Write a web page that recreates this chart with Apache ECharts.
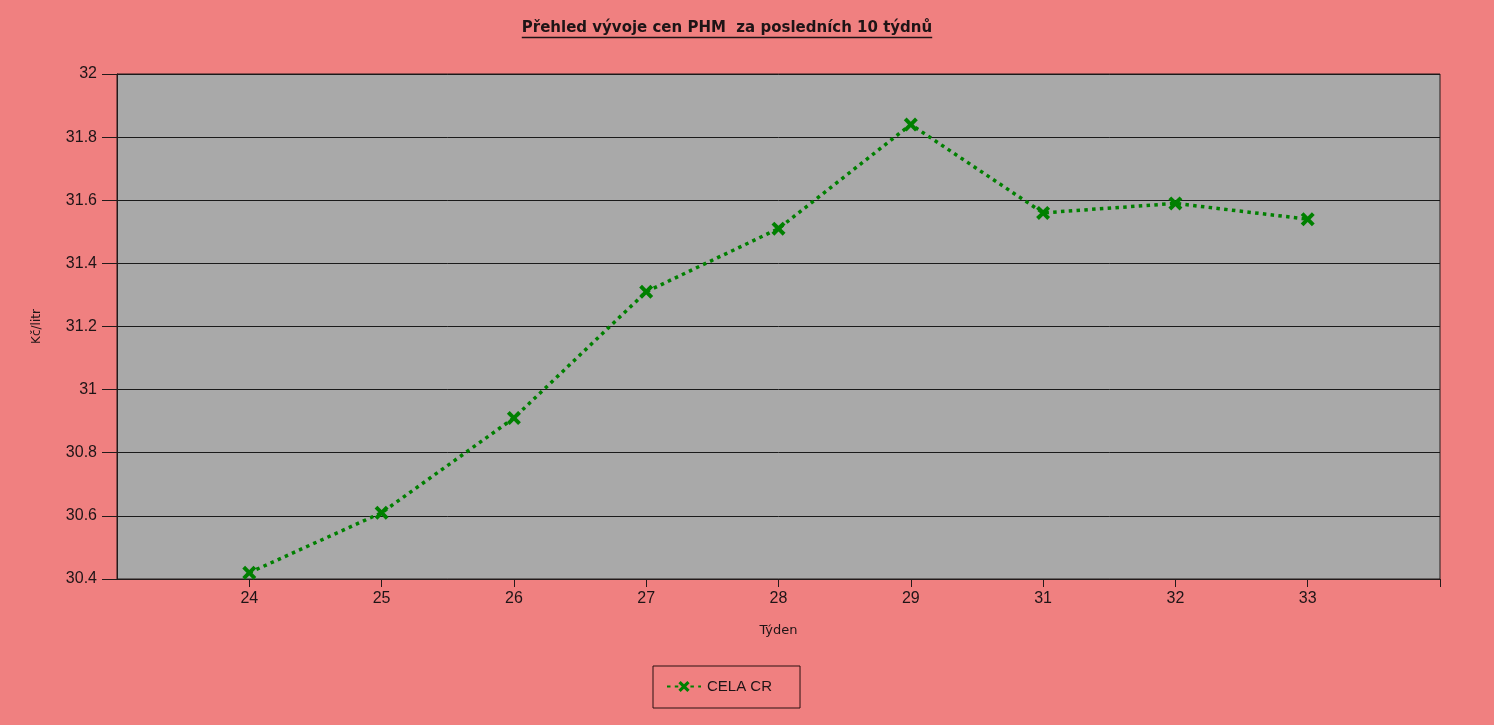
<!DOCTYPE html>
<html>
<head>
<meta charset="utf-8">
<script src="https://cdn.jsdelivr.net/npm/echarts@6/dist/echarts.min.js"></script>
<style>
html,body{margin:0;padding:0;background:#F08080;}
#c{width:1494px;height:725px;}
</style>
</head>
<body>
<div id="c"></div>
<script>
const titleText = 'Přehled vývoje cen PHM  za posledních 10 týdnů';
const weeks = ['', '24', '25', '26', '27', '28', '29', '31', '32', '33', ''];
const prices = [null, 30.42, 30.61, 30.91, 31.31, 31.51, 31.84, 31.56, 31.59, 31.54, null];
const seriesName = 'CELA CR';
const yName = 'Kč/litr';
const xName = 'Týden';

const txt = '#1e1416';
const titleFont = 'bold 15px "DejaVu Sans"';
const cv = document.createElement('canvas').getContext('2d');
cv.font = titleFont;
const tw = cv.measureText(titleText).width;
const tcx = 727;

const xSym = 'path://M2,0 L5,3 L8,0 L10,2 L7,5 L10,8 L8,10 L5,7 L2,10 L0,8 L3,5 L0,2 Z';
const chart = echarts.init(document.getElementById('c'));
chart.setOption({
  backgroundColor: '#F08080',
  animation: false,
  graphic: [
    { type: 'text', x: tcx, y: 28, style: { text: titleText, font: titleFont, fill: txt, textAlign: 'center', textVerticalAlign: 'middle' } },
    { type: 'line', shape: { x1: tcx - tw / 2, y1: 37.5, x2: tcx + tw / 2, y2: 37.5 }, style: { stroke: txt, lineWidth: 1.4 } }
  ],
  grid: {
    left: 117, right: 54, top: 74, bottom: 146,
    show: true, backgroundColor: '#A9A9A9', borderColor: '#231a1a', borderWidth: 1
  },
  legend: {
    left: 653, top: 666,
    padding: [13, 28, 14, 13],
    borderColor: '#2a1010', borderWidth: 1,
    itemWidth: 34, itemHeight: 14, itemGap: 10,
    textStyle: { fontFamily: 'Liberation Sans', fontSize: 15, color: txt, padding: [0, 0, 0, 1] },
    data: [seriesName]
  },
  xAxis: {
    type: 'category',
    data: weeks,
    boundaryGap: false,
    name: xName,
    nameLocation: 'middle',
    nameGap: 45,
    nameTextStyle: { fontFamily: 'DejaVu Sans', fontSize: 13, color: txt },
    axisLine: { lineStyle: { color: '#231a1a', width: 1 } },
    axisTick: { length: 8, interval: (i) => i !== 0, lineStyle: { color: '#231a1a' } },
    axisLabel: { fontFamily: 'Liberation Sans', fontSize: 16, color: txt, margin: 12 },
    splitLine: { show: false }
  },
  yAxis: {
    type: 'value',
    min: 30.4, max: 32, interval: 0.2,
    name: yName,
    nameLocation: 'middle',
    nameGap: 74,
    nameTextStyle: { fontFamily: 'DejaVu Sans', fontSize: 12, color: txt },
    axisLine: { show: true, lineStyle: { color: '#231a1a', width: 1 } },
    axisTick: { show: true, length: 15, lineStyle: { color: '#231a1a' } },
    axisLabel: { fontFamily: 'Liberation Sans', fontSize: 16, color: txt, margin: 20,
      formatter: v => String(Math.round(v * 10) / 10) },
    splitLine: { show: true, lineStyle: { color: '#1a1a1a', width: 1 } }
  },
  series: [{
    name: seriesName,
    type: 'line',
    data: prices,
    connectNulls: false,
    symbol: xSym,
    symbolSize: 14,
    showAllSymbol: true,
    itemStyle: { color: '#008000' },
    lineStyle: { color: '#008000', width: 3.5, type: [3.5, 4.3] }
  }]
});
</script>
</body>
</html>
